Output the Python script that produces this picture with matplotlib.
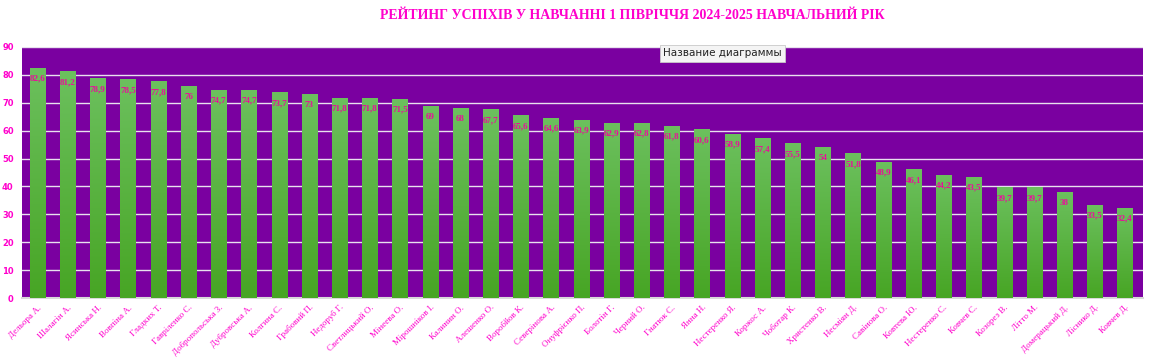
import matplotlib
matplotlib.use("Agg")
import matplotlib.pyplot as plt
import numpy as np
from matplotlib.colors import LinearSegmentedColormap

names = ["Дельора А.", "Шалагін А.", "Ясинська Н.", "Вовпіна А.", "Гладких Т.",
         "Гавріленко С.", "Добропольська З.", "Дубровська А.", "Колгина С.",
         "Грабовий П.", "Недоруб Г.", "Светлицький О.", "Мінеева О.",
         "Мірошніков І.", "Калинин О.", "Алешенко О.", "Воробйов К.",
         "Северінова А.", "Онуфрієнко П.", "Болотін Г.", "Черний О.",
         "Гнатюк С.", "Янна Н.", "Нестеренко Я.", "Коржос А.", "Чоботар К.",
         "Христенко В.", "Несміян Д.", "Савінова О.", "Ковтева Ю.",
         "Нестеренко С.", "Ковчев С.", "Козорез В.", "Літто М.",
         "Домерацький Д.", "Ліснико Д.", "Ковчев Д."]
values = [82.6, 81.2, 78.9, 78.5, 77.8, 76, 74.7, 74.7, 73.7, 73, 71.8, 71.8,
          71.5, 69, 68, 67.7, 65.6, 64.6, 63.9, 62.9, 62.8, 61.8, 60.6, 58.9,
          57.4, 55.5, 54, 51.8, 48.9, 46.1, 44.2, 43.5, 39.7, 39.7, 38, 33.5, 32.4]
yticks = list(range(0, 91, 10))
title = "РЕЙТИНГ УСПІХІВ У НАВЧАННІ 1 ПІВРІЧЧЯ 2024-2025 НАВЧАЛЬНИЙ РІК"

PINK = "#ff00cc"
PURPLE = "#7a00a0"

fig = plt.figure(figsize=(11.51, 3.61), dpi=100)
ax = fig.add_axes([0.0191, 0.1745, 0.974, 0.6955])
ax.set_facecolor(PURPLE)

x = np.arange(len(values))
bw = 0.5
bars = ax.bar(x, values, width=bw, color="#5cb544", zorder=2)

cmap = LinearSegmentedColormap.from_list("g", ["#47a524", "#6cc05e"])
grad = np.linspace(0, 1, 256).reshape(-1, 1)
for b, v in zip(bars, values):
    im = ax.imshow(grad, cmap=cmap, origin="lower", aspect="auto",
                   extent=[b.get_x(), b.get_x() + b.get_width(), 0, v], zorder=3)
    im.set_clip_path(b)
    ax.annotate(f"{v:g}".replace(".", ","), (b.get_x() + b.get_width() / 2, v),
                xytext=(0, -8), textcoords="offset points", ha="center", va="center",
                fontsize=6.5, color="#e8109a", family="Liberation Serif",
                fontweight="bold", zorder=4)

ax.set_xlim(-0.51, len(values) - 0.4)
ax.set_ylim(0, 90)
ax.set_yticks(yticks)
ax.yaxis.grid(True, color="#e8e0ee", linewidth=1.0, zorder=1)
ax.set_axisbelow(True)
ax.tick_params(axis="y", length=0, labelsize=6, labelcolor=PINK, pad=6)
for t in ax.get_yticklabels():
    t.set_fontweight("bold")
ax.set_xticks(x)
ax.set_xticklabels(names, rotation=45, ha="right", rotation_mode="anchor",
                   fontsize=6.5, color=PINK, family="Liberation Serif")
ax.tick_params(axis="x", length=0, pad=4)
for s in ["top", "right", "left"]:
    ax.spines[s].set_visible(False)
ax.spines["bottom"].set_color("#d9d9d9")
ax.spines["bottom"].set_linewidth(1.5)

fig.text(0.549, 0.958, title, ha="center", va="center", fontsize=10,
         color=PINK, fontweight="bold", family="Liberation Serif")

fig.text(0.576, 0.852, "Название диаграммы", ha="left", va="center", fontsize=7.5,
         color="#222222", family="DejaVu Sans",
         bbox=dict(boxstyle="square,pad=0.3", fc="#f4f4f4", ec="#c8c8c8", lw=0.6),
         zorder=10)

fig.savefig("out.png", dpi=100)
